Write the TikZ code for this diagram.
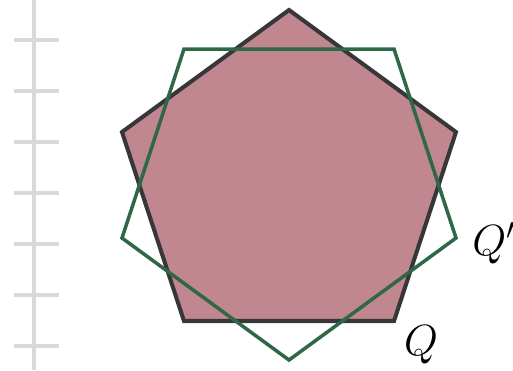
\documentclass[tikz,border=0pt]{standalone}
\usepackage{tikz}
\definecolor{rosefill}{RGB}{192,135,145}
\definecolor{darkedge}{RGB}{55,55,58}
\definecolor{leafgreen}{RGB}{46,104,70}
\definecolor{rulegray}{RGB}{217,217,217}
\begin{document}
\begin{tikzpicture}[x=0.02cm, y=-0.02cm, line join=miter,
        original/.style={draw=darkedge, fill=rosefill, line width=2.3pt},
        rotated/.style={draw=leafgreen, line width=2pt},
        ruler/.style={draw=rulegray, line width=2.1pt},
        polylabel/.style={font=\fontsize{23}{28}\selectfont, inner sep=0pt}]
        \useasboundingbox (0,0) rectangle (513,370);
        % ruler on the left
        \draw[ruler] (34,0) -- (34,370);
        \foreach \y in {40,91,142,193,244,295,346}
            \draw[ruler] (14,\y) -- (59,\y);
        % pentagon Q
        \coordinate (qt) at (289,10);
        \coordinate (qr) at (456,132);
        \coordinate (qbr) at (394,321);
        \coordinate (qbl) at (184,321);
        \coordinate (ql) at (122,132);
        \draw[original] (qt) -- (qr) -- (qbr) -- (qbl) -- (ql) -- cycle;
        % pentagon Q' (turned half way round)
        \coordinate (pb) at (289,360);
        \coordinate (pl) at (122,238);
        \coordinate (ptl) at (184,49);
        \coordinate (ptr) at (394,49);
        \coordinate (pr) at (456,238);
        \draw[rotated] (pb) -- (pl) -- (ptl) -- (ptr) -- (pr) -- cycle;
        \node[polylabel] (labq) at (421,345) {$Q$};
        \node[polylabel] (labqp) at (494,243) {$Q'$};
    \end{tikzpicture}
\end{document}
